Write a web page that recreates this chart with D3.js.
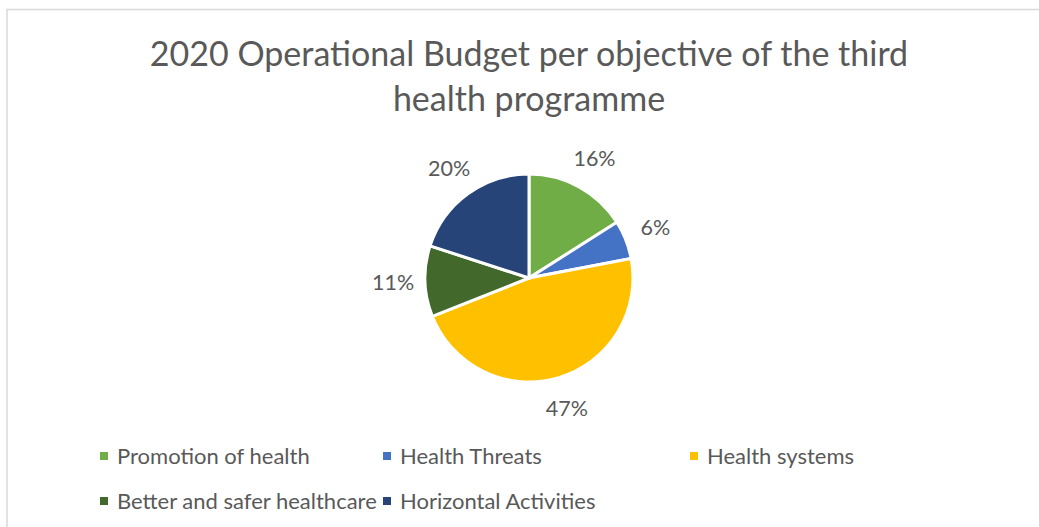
<!DOCTYPE html>
<html>
<head>
<meta charset="utf-8">
<script src="https://cdn.jsdelivr.net/npm/d3@7"></script>
<style>
  body { margin: 0; background: #fff; }
  text { font-family: Lato, "Open Sans", sans-serif; fill: #595959; }
</style>
</head>
<body>
<svg id="chart"></svg>
<script>
const categories = ['Promotion of health', 'Health Threats', 'Health systems', 'Better and safer healthcare', 'Horizontal Activities'];
const values = [16, 6, 47, 11, 20];
const colors = ['#70ad47', '#4472c4', '#ffc000', '#43682b', '#264478'];
const titleLines = ['2020 Operational Budget per objective of the third', 'health programme'];

const width = 1039;
const height = 527;
const radius = 104;
const cx = 529, cy = 278;

const svg = d3.select('#chart')
  .attr('width', width)
  .attr('height', height);

// chart area border
svg.append('path')
  .attr('d', `M7,${height} V9.5 H${width}`)
  .attr('fill', 'none')
  .attr('stroke', '#d9d9d9')
  .attr('stroke-width', 1.5);

svg.selectAll('.title')
  .data(titleLines)
  .enter()
  .append('text')
  .attr('class', 'title')
  .attr('x', cx)
  .attr('y', (d, i) => 66 + i * 45)
  .attr('text-anchor', 'middle')
  .style('font-size', '34px')
  .text((d) => d);

const color = d3.scaleOrdinal().domain(categories).range(colors);

const data = categories.map((name, i) => ({ name, value: values[i] }));
const pie = d3.pie().sort(null).value((d) => d.value);
const arc = d3.arc().innerRadius(0).outerRadius(radius);
const labelArc = d3.arc().innerRadius(136).outerRadius(136);

const g = svg.append('g').attr('transform', `translate(${cx}, ${cy})`);

g.selectAll('path')
  .data(pie(data))
  .enter()
  .append('path')
  .attr('d', arc)
  .attr('fill', (d) => color(d.data.name))
  .attr('stroke', '#fff')
  .style('stroke-width', '3px');

g.selectAll('text')
  .data(pie(data))
  .enter()
  .append('text')
  .attr('transform', (d) => `translate(${labelArc.centroid(d)})`)
  .attr('text-anchor', 'middle')
  .attr('dy', '0.35em')
  .style('font-size', '21.5px')
  .text((d) => d.data.value + '%');

// legend, wrapped rows
const legendX = [100, 383, 690];
const legend = svg.selectAll('.legend')
  .data(categories)
  .enter()
  .append('g')
  .attr('class', 'legend')
  .attr('transform', (d, i) => `translate(${legendX[i % 3]}, ${456 + Math.floor(i / 3) * 45})`);

legend.append('rect')
  .attr('x', 0)
  .attr('y', -4)
  .attr('width', 8)
  .attr('height', 8)
  .attr('fill', (d) => color(d));

legend.append('text')
  .attr('x', 17)
  .attr('dy', '0.35em')
  .style('font-size', '22px')
  .text((d) => d);
</script>
</body>
</html>
